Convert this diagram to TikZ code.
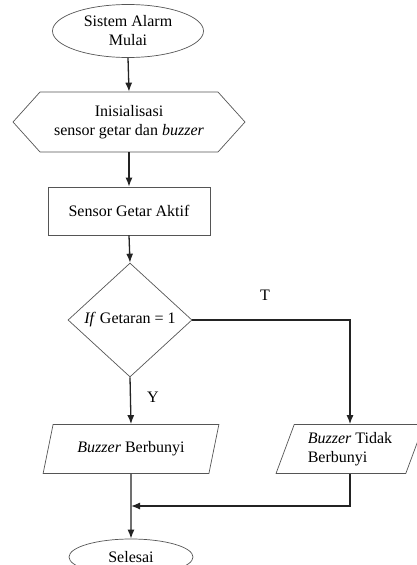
\documentclass[tikz,border=0pt]{standalone}
\usepackage{fontspec}
\setmainfont{Liberation Serif}
\usetikzlibrary{shapes.geometric,shapes.symbols,arrows.meta}

\definecolor{garis}{RGB}{85,85,85}
\definecolor{panah}{RGB}{35,35,35}

\begin{document}
\begin{tikzpicture}[
    x=1pt, y=-1pt,
    base/.style={draw=garis, line width=0.7pt, fill=white, align=center,
      font=\fontsize{16}{19}\selectfont, inner sep=2pt},
    terminal/.style={base, ellipse},
    persiapan/.style={base, signal, signal to=west and east,
      signal pointer angle=96},
    proses/.style={base, rectangle},
    keputusan/.style={base, diamond},
    io/.style={base, trapezium, trapezium left angle=69,
      trapezium right angle=111, trapezium stretches=true},
    alur/.style={draw=panah, line width=1.3pt},
    >={Latex[length=9pt,width=7pt]}
    ]
    \useasboundingbox (0,0) rectangle (417,565);

    % Nodes
    \node[terminal, minimum width=151pt, minimum height=53pt] (mulai) at (128,31)
        {Sistem Alarm\\Mulai};
    \node[persiapan, minimum width=232pt, minimum height=60pt] (init) at (129,122)
        {Inisialisasi\\sensor getar dan \textit{buzzer}};
    \node[proses, minimum width=162pt, minimum height=48pt] (sensor) at (129,211)
        {Sensor Getar Aktif};
    \node[keputusan, minimum width=124pt, minimum height=111pt] (cek) at (130,320)
        {\textit{If} Getaran = 1};
    \node[io, minimum width=176pt, minimum height=49pt] (bunyi) at (131,449)
        {\textit{Buzzer} Berbunyi};
    \node[io, minimum width=148pt, minimum height=49pt, align=left] (diam) at (350,449)
        {\textit{Buzzer} Tidak\\Berbunyi};
    \node[terminal, minimum width=124pt, minimum height=36pt] (selesai) at (131,557)
        {Selesai};
    \coordinate (gabung) at (131,506);

    % Labels
    \node[font=\fontsize{16}{19}\selectfont] (lblT) at (265,295) {T};
    \node[font=\fontsize{16}{19}\selectfont] (lblY) at (153,397) {Y};

    % Arrows
    \foreach \a/\b in {mulai/init, init/sensor, sensor/cek, cek/bunyi}
        \draw[alur, ->] (\a.south) -- (\b.north);
    \draw[alur, ->] (cek.east) -| (diam.north);
    \draw[alur, ->] (diam.south) |- (gabung);
    \draw[alur, ->] (bunyi.south) -- (selesai.north);
\end{tikzpicture}
\end{document}
